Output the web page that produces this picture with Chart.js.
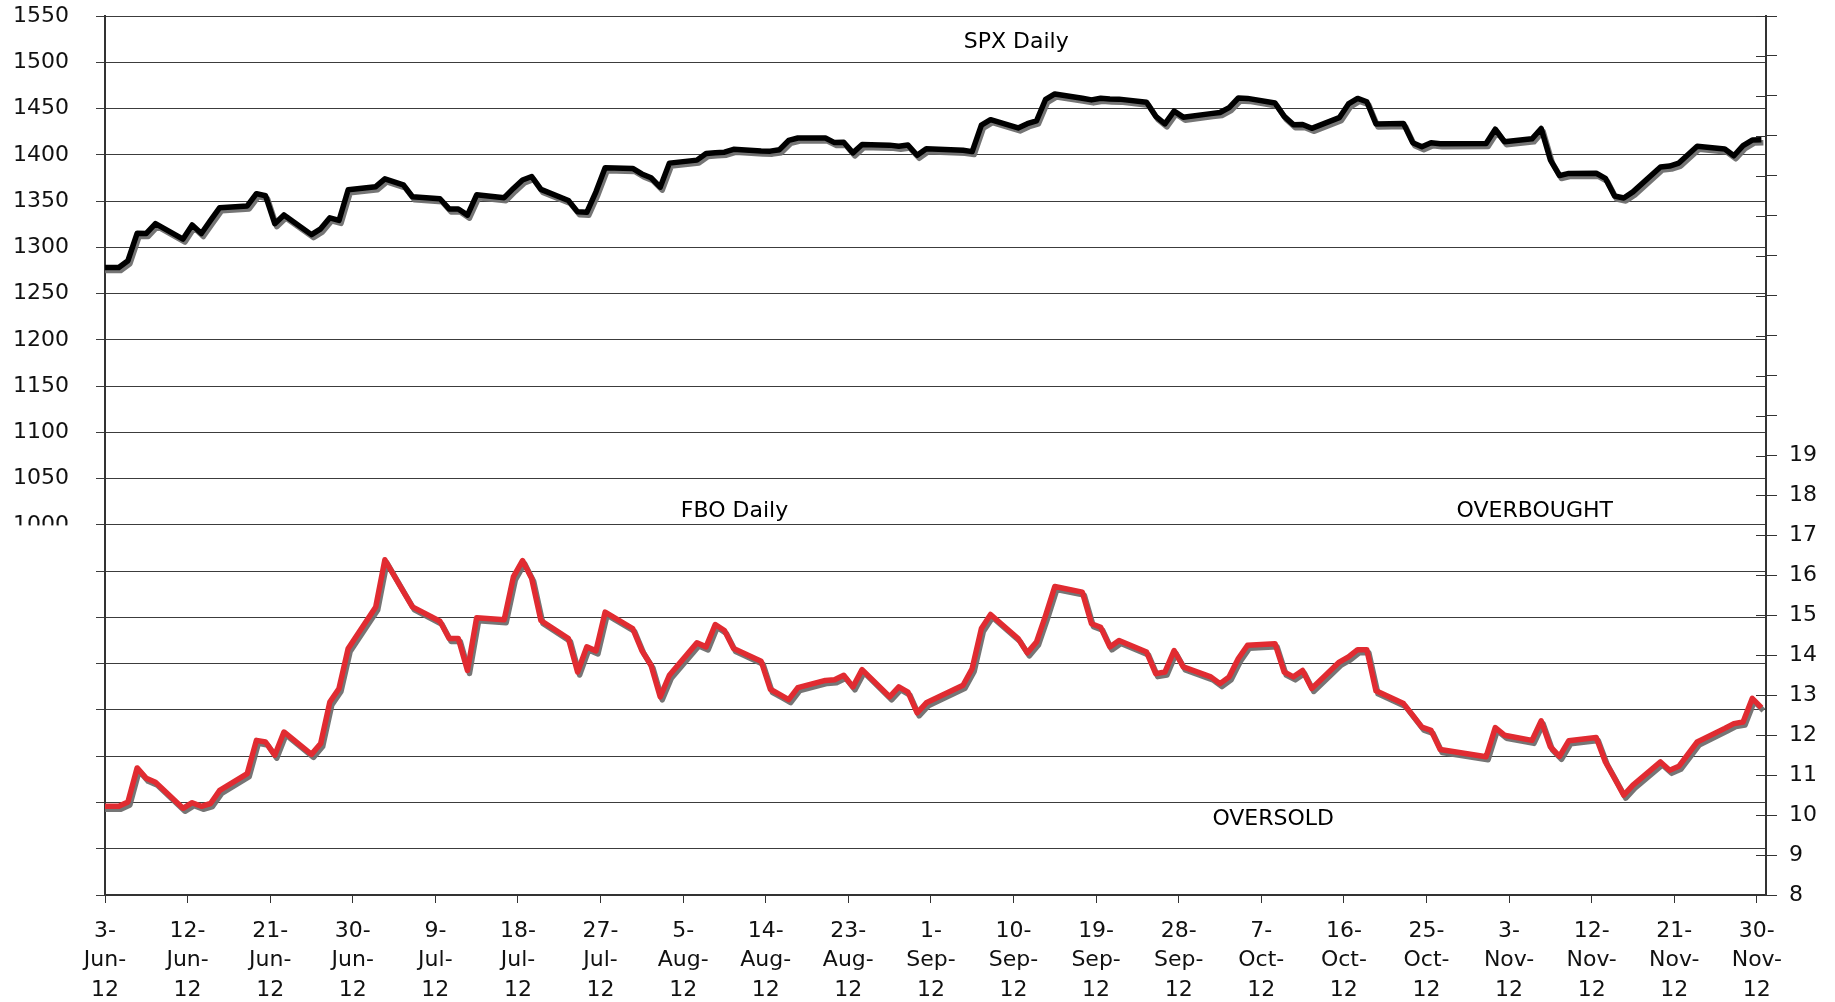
<!DOCTYPE html>
<html>
<head>
<meta charset="UTF-8">
<title>SPX Daily / FBO Daily</title>
<script src="https://cdn.jsdelivr.net/npm/chart.js@4/dist/chart.umd.min.js"></script>
<style>
  html, body { margin: 0; padding: 0; background: #fff; }
  .box { position: relative; width: 1835px; height: 1002px; }
</style>
</head>
<body>
<div class="box"><canvas id="c"></canvas></div>
<script>
// Handelstage Jun-Nov 2012
const dates = [
  '2012-06-01','2012-06-04','2012-06-05','2012-06-06','2012-06-07','2012-06-08',
  '2012-06-11','2012-06-12','2012-06-13','2012-06-14','2012-06-15',
  '2012-06-18','2012-06-19','2012-06-20','2012-06-21','2012-06-22',
  '2012-06-25','2012-06-26','2012-06-27','2012-06-28','2012-06-29',
  '2012-07-02','2012-07-03','2012-07-05','2012-07-06',
  '2012-07-09','2012-07-10','2012-07-11','2012-07-12','2012-07-13',
  '2012-07-16','2012-07-17','2012-07-18','2012-07-19','2012-07-20',
  '2012-07-23','2012-07-24','2012-07-25','2012-07-26','2012-07-27',
  '2012-07-30','2012-07-31','2012-08-01','2012-08-02','2012-08-03',
  '2012-08-06','2012-08-07','2012-08-08','2012-08-09','2012-08-10',
  '2012-08-13','2012-08-14','2012-08-15','2012-08-16','2012-08-17',
  '2012-08-20','2012-08-21','2012-08-22','2012-08-23','2012-08-24',
  '2012-08-27','2012-08-28','2012-08-29','2012-08-30','2012-08-31',
  '2012-09-04','2012-09-05','2012-09-06','2012-09-07',
  '2012-09-10','2012-09-11','2012-09-12','2012-09-13','2012-09-14',
  '2012-09-17','2012-09-18','2012-09-19','2012-09-20','2012-09-21',
  '2012-09-24','2012-09-25','2012-09-26','2012-09-27','2012-09-28',
  '2012-10-01','2012-10-02','2012-10-03','2012-10-04','2012-10-05',
  '2012-10-08','2012-10-09','2012-10-10','2012-10-11','2012-10-12',
  '2012-10-15','2012-10-16','2012-10-17','2012-10-18','2012-10-19',
  '2012-10-22','2012-10-23','2012-10-24','2012-10-25','2012-10-26',
  '2012-10-31','2012-11-01','2012-11-02',
  '2012-11-05','2012-11-06','2012-11-07','2012-11-08','2012-11-09',
  '2012-11-12','2012-11-13','2012-11-14','2012-11-15','2012-11-16',
  '2012-11-19','2012-11-20','2012-11-21','2012-11-23',
  '2012-11-26','2012-11-27','2012-11-28','2012-11-29','2012-11-30'
];

const spx = [
  1278.04,1278.18,1285.50,1315.13,1314.99,1325.66,
  1308.93,1324.18,1314.88,1329.10,1342.84,
  1344.78,1357.98,1355.69,1325.51,1335.02,
  1313.72,1319.99,1331.85,1329.04,1362.16,
  1365.51,1374.02,1367.58,1354.68,
  1352.46,1341.47,1341.45,1334.76,1356.78,
  1353.64,1363.67,1372.78,1376.51,1362.66,
  1350.52,1338.31,1337.89,1360.02,1385.97,
  1385.30,1379.32,1375.14,1365.00,1390.99,
  1394.23,1401.35,1402.22,1402.80,1405.87,
  1404.11,1403.93,1405.53,1415.51,1418.16,
  1418.13,1413.17,1413.49,1402.08,1411.13,
  1410.44,1409.30,1410.49,1399.48,1406.58,
  1404.94,1403.44,1432.12,1437.92,
  1429.08,1433.56,1436.56,1459.99,1465.77,
  1461.19,1459.32,1461.05,1460.26,1460.15,
  1456.89,1441.59,1433.32,1447.15,1440.67,
  1444.49,1445.75,1450.99,1461.40,1460.93,
  1455.88,1441.48,1432.56,1432.84,1428.59,
  1440.13,1454.92,1460.91,1457.34,1433.19,
  1433.82,1413.11,1408.75,1412.97,1411.94,
  1412.16,1427.59,1414.20,
  1417.26,1428.39,1394.53,1377.51,1379.85,
  1380.03,1374.53,1355.49,1353.33,1359.88,
  1386.89,1387.81,1391.03,1409.15,
  1406.29,1398.94,1409.93,1415.95,1416.18
];

const fbo = [
  10.22,10.22,10.33,11.18,10.92,10.82,
  10.17,10.31,10.22,10.29,10.62,
  11.04,11.87,11.83,11.50,12.08,
  11.52,11.79,12.83,13.17,14.17,
  15.21,16.39,15.60,15.21,
  14.85,14.42,14.42,13.62,14.94,
  14.89,15.96,16.37,15.92,14.87,
  14.42,13.58,14.21,14.11,15.08,
  14.67,14.12,13.75,12.96,13.50,
  14.31,14.21,14.77,14.62,14.17,
  13.85,13.15,13.02,12.89,13.19,
  13.37,13.39,13.50,13.21,13.64,
  12.96,13.21,13.08,12.56,12.81,
  13.25,13.67,14.67,15.02,
  14.42,14.06,14.33,15.00,15.72,
  15.58,14.79,14.70,14.21,14.37,
  14.08,13.54,13.58,14.12,13.71,
  13.46,13.29,13.46,13.92,14.25,
  14.29,13.58,13.46,13.62,13.17,
  13.83,13.96,14.14,14.14,13.11,
  12.79,12.50,12.20,12.12,11.64,
  11.46,12.19,12.00,
  11.87,12.36,11.71,11.47,11.86,
  11.94,11.33,10.92,10.50,10.75,
  11.33,11.12,11.22,11.83,
  12.17,12.29,12.33,12.92,12.69
];

const xTickDates = [
  '2012-06-03','2012-06-12','2012-06-21','2012-06-30','2012-07-09','2012-07-18',
  '2012-07-27','2012-08-05','2012-08-14','2012-08-23','2012-09-01','2012-09-10',
  '2012-09-19','2012-09-28','2012-10-07','2012-10-16','2012-10-25','2012-11-03',
  '2012-11-12','2012-11-21','2012-11-30'
];
const MONTHS = ['Jan','Feb','Mar','Apr','May','Jun','Jul','Aug','Sep','Oct','Nov','Dec'];

// Texte im Diagramm: [text, tag (x), wert, achse]
const notes = [
  ['SPX Daily',  99.3, 1522, 'y'],
  ['FBO Daily',  68.6, 17.6, 'y2'],
  ['OVERBOUGHT', 155.8, 17.6, 'y2'],
  ['OVERSOLD',   127.3, 9.9, 'y2'],
];

// ---------------------------------------------------------------------------
// Tage ab 3-Jun-12, Punkte mittig im Tagesschlitz (wie Excel-Datumsachse)
// ---------------------------------------------------------------------------
const T0 = Date.UTC(2012, 5, 3);
const dayOf = (s) => {
  const [y, m, d] = s.split('-').map(Number);
  return (Date.UTC(y, m - 1, d) - T0) / 864e5;
};
const xs = dates.map(d => dayOf(d) + 0.5);
const tickDays = xTickDates.map(dayOf);

const FONT = { family: 'DejaVu Sans', size: 22 };
const AXIS = '#333';

const shadowPlugin = {
  id: 'shadow',
  beforeDatasetDraw(chart) {
    const ctx = chart.ctx;
    ctx.save();
    ctx.shadowColor = 'rgba(110,110,110,0.95)';
    ctx.shadowOffsetX = 2;
    ctx.shadowOffsetY = 3;
    ctx.shadowBlur = 0;
  },
  afterDatasetDraw(chart) { chart.ctx.restore(); }
};

const extrasPlugin = {
  id: 'extras',
  afterDraw(chart) {
    const ctx = chart.ctx;
    const y = chart.scales.y, y2 = chart.scales.y2, x = chart.scales.x;
    ctx.save();
    // untere Haelfte der 1000-Beschriftung abdecken
    ctx.fillStyle = '#fff';
    const y1000 = y.getPixelForValue(1000);
    ctx.fillRect(0, y1000 + 0.5, y.right - 12, 16);
    // rechte Achse: Striche auch nach innen
    ctx.strokeStyle = AXIS;
    ctx.lineWidth = 1;
    ctx.beginPath();
    y2.ticks.forEach(t => {
      const py = Math.round(y2.getPixelForValue(t.value)) + 0.5;
      ctx.moveTo(y2.left - 10, py);
      ctx.lineTo(y2.left, py);
    });
    ctx.stroke();
    // Texte
    ctx.fillStyle = '#000';
    ctx.font = `${FONT.size}px ${FONT.family}`;
    ctx.textAlign = 'center';
    ctx.textBaseline = 'middle';
    notes.forEach(([txt, d, v, ax]) => {
      ctx.fillText(txt, x.getPixelForValue(d), chart.scales[ax].getPixelForValue(v));
    });
    ctx.restore();
  }
};

// feste Achsenmasse, Beschriftungs-Ueberhang nicht einrechnen
const fixV = (w) => (s) => { s.width = w; s.paddingTop = 0; s.paddingBottom = 0; };

new Chart(document.getElementById('c'), {
  type: 'line',
  plugins: [shadowPlugin, extrasPlugin],
  data: {
    datasets: [
      {
        label: 'SPX Daily', yAxisID: 'y',
        data: xs.map((d, i) => ({ x: d, y: spx[i] })),
        borderColor: '#000', borderWidth: 5.5, pointRadius: 0,
        borderJoinStyle: 'round', tension: 0, clip: 0,
      },
      {
        label: 'FBO Daily', yAxisID: 'y2',
        data: xs.map((d, i) => ({ x: d, y: fbo[i] })),
        borderColor: '#e12b31', borderWidth: 5.5, pointRadius: 0,
        borderJoinStyle: 'round', tension: 0, clip: 0,
      }
    ]
  },
  options: {
    responsive: true,
    maintainAspectRatio: false,
    animation: false,
    layout: { padding: { top: 16, left: 0, right: 0, bottom: 0 } },
    plugins: { legend: { display: false }, tooltip: { enabled: false } },
    scales: {
      x: {
        type: 'linear', min: 0, max: 181,
        afterBuildTicks: s => { s.ticks = tickDays.map(v => ({ value: v })); },
        afterFit: s => { s.height = 107; s.paddingLeft = 0; s.paddingRight = 0; },
        grid: { drawOnChartArea: false, color: AXIS, tickLength: 8 },
        border: { color: AXIS, width: 2 },
        ticks: {
          autoSkip: false, maxRotation: 0, minRotation: 0, padding: 13,
          color: '#111', font: { ...FONT, lineHeight: 1.35 },
          callback: (v) => {
            const d = new Date(T0 + v * 864e5);
            return [d.getUTCDate() + '-', MONTHS[d.getUTCMonth()] + '-', '12'];
          }
        }
      },
      y: {
        position: 'left', min: 600, max: 1550,
        afterFit: fixV(105),
        grid: { color: '#3c3c3c', lineWidth: 1, tickLength: 9 },
        border: { color: AXIS, width: 2 },
        ticks: {
          stepSize: 50, padding: 27, color: '#111', font: FONT,
          callback: (v) => v >= 1000 ? v : ''
        }
      },
      y2: {
        position: 'right', min: 8, max: 30,
        afterFit: fixV(69),
        grid: { drawOnChartArea: false, color: AXIS, tickLength: 11 },
        border: { color: AXIS, width: 2 },
        ticks: {
          stepSize: 1, padding: 12, color: '#111', font: FONT,
          callback: (v) => v <= 19 ? v : ''
        }
      }
    }
  }
});
</script>
</body>
</html>
